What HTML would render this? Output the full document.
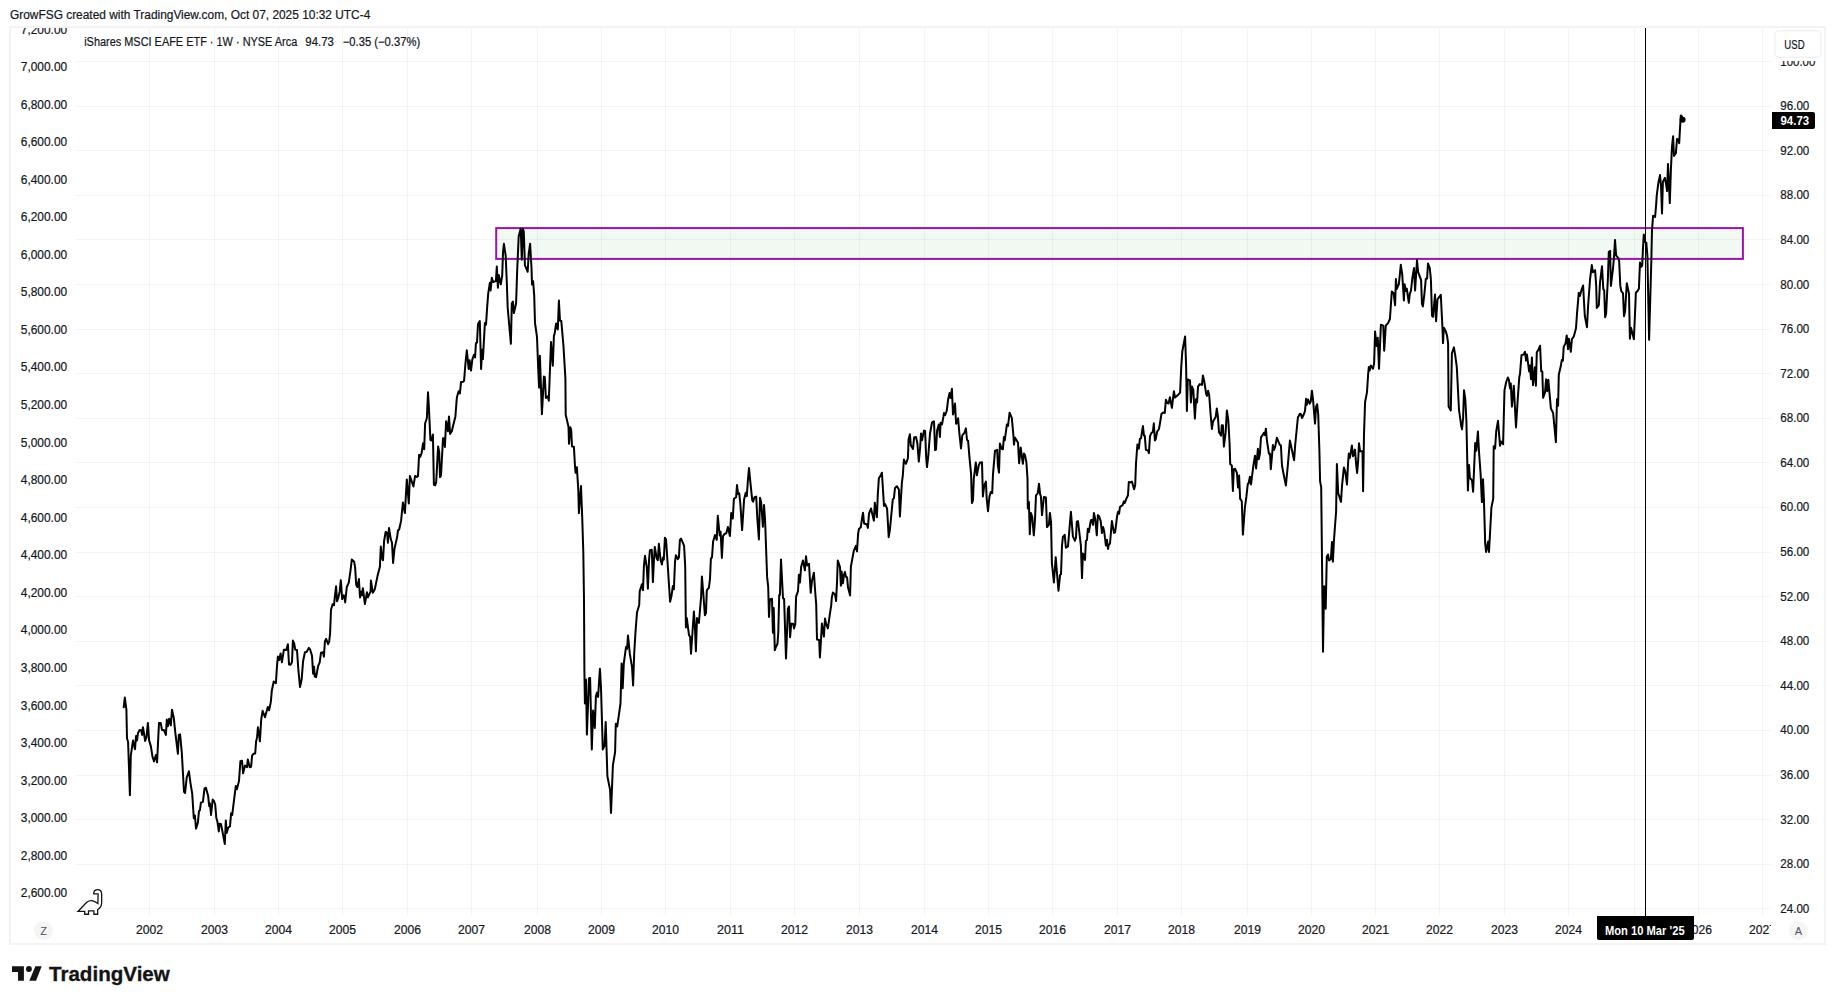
<!DOCTYPE html>
<html lang="en"><head><meta charset="utf-8"><title>iShares MSCI EAFE ETF chart</title>
<style>html,body{margin:0;padding:0;background:#fff}body{width:1835px;height:1004px;overflow:hidden}svg{display:block}text{font-family:"Liberation Sans", sans-serif;font-size:12px;fill:#131722;stroke:#131722;stroke-width:0.2px}</style>
</head><body>
<svg width="1835" height="1004" viewBox="0 0 1835 1004">
<rect x="0" y="0" width="1835" height="1004" fill="#fff"/>
<text x="10" y="19.3" textLength="360.3" lengthAdjust="spacingAndGlyphs">GrowFSG created with TradingView.com, Oct 07, 2025 10:32 UTC-4</text>
<rect x="10" y="27" width="1815" height="917" fill="#fff" stroke="#f3f3f3" stroke-width="2"/>
<g shape-rendering="crispEdges" stroke="#1e3c2d" stroke-opacity="0.055" stroke-width="1">
<line x1="76" y1="61.5" x2="1771" y2="61.5"/>
<line x1="76" y1="106.5" x2="1771" y2="106.5"/>
<line x1="76" y1="150.5" x2="1771" y2="150.5"/>
<line x1="76" y1="195.5" x2="1771" y2="195.5"/>
<line x1="76" y1="239.5" x2="1771" y2="239.5"/>
<line x1="76" y1="284.5" x2="1771" y2="284.5"/>
<line x1="76" y1="329.5" x2="1771" y2="329.5"/>
<line x1="76" y1="373.5" x2="1771" y2="373.5"/>
<line x1="76" y1="418.5" x2="1771" y2="418.5"/>
<line x1="76" y1="462.5" x2="1771" y2="462.5"/>
<line x1="76" y1="507.5" x2="1771" y2="507.5"/>
<line x1="76" y1="552.5" x2="1771" y2="552.5"/>
<line x1="76" y1="596.5" x2="1771" y2="596.5"/>
<line x1="76" y1="641.5" x2="1771" y2="641.5"/>
<line x1="76" y1="685.5" x2="1771" y2="685.5"/>
<line x1="76" y1="730.5" x2="1771" y2="730.5"/>
<line x1="76" y1="775.5" x2="1771" y2="775.5"/>
<line x1="76" y1="819.5" x2="1771" y2="819.5"/>
<line x1="76" y1="864.5" x2="1771" y2="864.5"/>
<line x1="76" y1="908.5" x2="1771" y2="908.5"/>
<line x1="149.5" y1="28" x2="149.5" y2="916"/>
<line x1="214.5" y1="28" x2="214.5" y2="916"/>
<line x1="278.5" y1="28" x2="278.5" y2="916"/>
<line x1="342.5" y1="28" x2="342.5" y2="916"/>
<line x1="407.5" y1="28" x2="407.5" y2="916"/>
<line x1="471.5" y1="28" x2="471.5" y2="916"/>
<line x1="537.5" y1="28" x2="537.5" y2="916"/>
<line x1="601.5" y1="28" x2="601.5" y2="916"/>
<line x1="665.5" y1="28" x2="665.5" y2="916"/>
<line x1="730.5" y1="28" x2="730.5" y2="916"/>
<line x1="794.5" y1="28" x2="794.5" y2="916"/>
<line x1="859.5" y1="28" x2="859.5" y2="916"/>
<line x1="924.5" y1="28" x2="924.5" y2="916"/>
<line x1="988.5" y1="28" x2="988.5" y2="916"/>
<line x1="1052.5" y1="28" x2="1052.5" y2="916"/>
<line x1="1117.5" y1="28" x2="1117.5" y2="916"/>
<line x1="1181.5" y1="28" x2="1181.5" y2="916"/>
<line x1="1247.5" y1="28" x2="1247.5" y2="916"/>
<line x1="1311.5" y1="28" x2="1311.5" y2="916"/>
<line x1="1375.5" y1="28" x2="1375.5" y2="916"/>
<line x1="1439.5" y1="28" x2="1439.5" y2="916"/>
<line x1="1504.5" y1="28" x2="1504.5" y2="916"/>
<line x1="1568.5" y1="28" x2="1568.5" y2="916"/>
<line x1="1634.5" y1="28" x2="1634.5" y2="916"/>
<line x1="1698.5" y1="28" x2="1698.5" y2="916"/>
<line x1="1762.5" y1="28" x2="1762.5" y2="916"/>
</g>
<defs><clipPath id="cf"><rect x="11" y="28" width="1813" height="915"/></clipPath><clipPath id="cp"><rect x="76" y="28" width="1695" height="916"/></clipPath><clipPath id="cr"><rect x="1771" y="61" width="54" height="860"/></clipPath></defs>
<g clip-path="url(#cf)" text-anchor="end">
<text x="67.2" y="34.4" textLength="46.4" lengthAdjust="spacingAndGlyphs">7,200.00</text>
<text x="67.2" y="71.0" textLength="46.4" lengthAdjust="spacingAndGlyphs">7,000.00</text>
<text x="67.2" y="108.5" textLength="46.4" lengthAdjust="spacingAndGlyphs">6,800.00</text>
<text x="67.2" y="146.1" textLength="46.4" lengthAdjust="spacingAndGlyphs">6,600.00</text>
<text x="67.2" y="183.6" textLength="46.4" lengthAdjust="spacingAndGlyphs">6,400.00</text>
<text x="67.2" y="221.2" textLength="46.4" lengthAdjust="spacingAndGlyphs">6,200.00</text>
<text x="67.2" y="258.8" textLength="46.4" lengthAdjust="spacingAndGlyphs">6,000.00</text>
<text x="67.2" y="296.3" textLength="46.4" lengthAdjust="spacingAndGlyphs">5,800.00</text>
<text x="67.2" y="333.9" textLength="46.4" lengthAdjust="spacingAndGlyphs">5,600.00</text>
<text x="67.2" y="371.4" textLength="46.4" lengthAdjust="spacingAndGlyphs">5,400.00</text>
<text x="67.2" y="409.0" textLength="46.4" lengthAdjust="spacingAndGlyphs">5,200.00</text>
<text x="67.2" y="446.6" textLength="46.4" lengthAdjust="spacingAndGlyphs">5,000.00</text>
<text x="67.2" y="484.1" textLength="46.4" lengthAdjust="spacingAndGlyphs">4,800.00</text>
<text x="67.2" y="521.7" textLength="46.4" lengthAdjust="spacingAndGlyphs">4,600.00</text>
<text x="67.2" y="559.2" textLength="46.4" lengthAdjust="spacingAndGlyphs">4,400.00</text>
<text x="67.2" y="596.8" textLength="46.4" lengthAdjust="spacingAndGlyphs">4,200.00</text>
<text x="67.2" y="634.4" textLength="46.4" lengthAdjust="spacingAndGlyphs">4,000.00</text>
<text x="67.2" y="671.9" textLength="46.4" lengthAdjust="spacingAndGlyphs">3,800.00</text>
<text x="67.2" y="709.5" textLength="46.4" lengthAdjust="spacingAndGlyphs">3,600.00</text>
<text x="67.2" y="747.0" textLength="46.4" lengthAdjust="spacingAndGlyphs">3,400.00</text>
<text x="67.2" y="784.6" textLength="46.4" lengthAdjust="spacingAndGlyphs">3,200.00</text>
<text x="67.2" y="822.2" textLength="46.4" lengthAdjust="spacingAndGlyphs">3,000.00</text>
<text x="67.2" y="859.7" textLength="46.4" lengthAdjust="spacingAndGlyphs">2,800.00</text>
<text x="67.2" y="897.3" textLength="46.4" lengthAdjust="spacingAndGlyphs">2,600.00</text>
</g>
<g clip-path="url(#cr)">
<text x="1780.3" y="66" textLength="35.0" lengthAdjust="spacingAndGlyphs">100.00</text>
<text x="1780.3" y="110" textLength="29.0" lengthAdjust="spacingAndGlyphs">96.00</text>
<text x="1780.3" y="155" textLength="29.0" lengthAdjust="spacingAndGlyphs">92.00</text>
<text x="1780.3" y="199" textLength="29.0" lengthAdjust="spacingAndGlyphs">88.00</text>
<text x="1780.3" y="244" textLength="29.0" lengthAdjust="spacingAndGlyphs">84.00</text>
<text x="1780.3" y="289" textLength="29.0" lengthAdjust="spacingAndGlyphs">80.00</text>
<text x="1780.3" y="333" textLength="29.0" lengthAdjust="spacingAndGlyphs">76.00</text>
<text x="1780.3" y="378" textLength="29.0" lengthAdjust="spacingAndGlyphs">72.00</text>
<text x="1780.3" y="422" textLength="29.0" lengthAdjust="spacingAndGlyphs">68.00</text>
<text x="1780.3" y="467" textLength="29.0" lengthAdjust="spacingAndGlyphs">64.00</text>
<text x="1780.3" y="511" textLength="29.0" lengthAdjust="spacingAndGlyphs">60.00</text>
<text x="1780.3" y="556" textLength="29.0" lengthAdjust="spacingAndGlyphs">56.00</text>
<text x="1780.3" y="601" textLength="29.0" lengthAdjust="spacingAndGlyphs">52.00</text>
<text x="1780.3" y="645" textLength="29.0" lengthAdjust="spacingAndGlyphs">48.00</text>
<text x="1780.3" y="690" textLength="29.0" lengthAdjust="spacingAndGlyphs">44.00</text>
<text x="1780.3" y="734" textLength="29.0" lengthAdjust="spacingAndGlyphs">40.00</text>
<text x="1780.3" y="779" textLength="29.0" lengthAdjust="spacingAndGlyphs">36.00</text>
<text x="1780.3" y="824" textLength="29.0" lengthAdjust="spacingAndGlyphs">32.00</text>
<text x="1780.3" y="868" textLength="29.0" lengthAdjust="spacingAndGlyphs">28.00</text>
<text x="1780.3" y="913" textLength="29.0" lengthAdjust="spacingAndGlyphs">24.00</text>
</g>
<g clip-path="url(#cp)" text-anchor="middle">
<text x="149.5" y="934" textLength="27" lengthAdjust="spacingAndGlyphs">2002</text>
<text x="214.5" y="934" textLength="27" lengthAdjust="spacingAndGlyphs">2003</text>
<text x="278.5" y="934" textLength="27" lengthAdjust="spacingAndGlyphs">2004</text>
<text x="342.5" y="934" textLength="27" lengthAdjust="spacingAndGlyphs">2005</text>
<text x="407.5" y="934" textLength="27" lengthAdjust="spacingAndGlyphs">2006</text>
<text x="471.5" y="934" textLength="27" lengthAdjust="spacingAndGlyphs">2007</text>
<text x="537.5" y="934" textLength="27" lengthAdjust="spacingAndGlyphs">2008</text>
<text x="601.5" y="934" textLength="27" lengthAdjust="spacingAndGlyphs">2009</text>
<text x="665.5" y="934" textLength="27" lengthAdjust="spacingAndGlyphs">2010</text>
<text x="730.5" y="934" textLength="27" lengthAdjust="spacingAndGlyphs">2011</text>
<text x="794.5" y="934" textLength="27" lengthAdjust="spacingAndGlyphs">2012</text>
<text x="859.5" y="934" textLength="27" lengthAdjust="spacingAndGlyphs">2013</text>
<text x="924.5" y="934" textLength="27" lengthAdjust="spacingAndGlyphs">2014</text>
<text x="988.5" y="934" textLength="27" lengthAdjust="spacingAndGlyphs">2015</text>
<text x="1052.5" y="934" textLength="27" lengthAdjust="spacingAndGlyphs">2016</text>
<text x="1117.5" y="934" textLength="27" lengthAdjust="spacingAndGlyphs">2017</text>
<text x="1181.5" y="934" textLength="27" lengthAdjust="spacingAndGlyphs">2018</text>
<text x="1247.5" y="934" textLength="27" lengthAdjust="spacingAndGlyphs">2019</text>
<text x="1311.5" y="934" textLength="27" lengthAdjust="spacingAndGlyphs">2020</text>
<text x="1375.5" y="934" textLength="27" lengthAdjust="spacingAndGlyphs">2021</text>
<text x="1439.5" y="934" textLength="27" lengthAdjust="spacingAndGlyphs">2022</text>
<text x="1504.5" y="934" textLength="27" lengthAdjust="spacingAndGlyphs">2023</text>
<text x="1568.5" y="934" textLength="27" lengthAdjust="spacingAndGlyphs">2024</text>
<text x="1634.5" y="934" textLength="27" lengthAdjust="spacingAndGlyphs">2025</text>
<text x="1698.5" y="934" textLength="27" lengthAdjust="spacingAndGlyphs">2026</text>
<text x="1762.5" y="934" textLength="27" lengthAdjust="spacingAndGlyphs">2027</text>
</g>
<rect x="496.2" y="228.1" width="1246.7" height="30.8" fill="#4caf50" fill-opacity="0.07" stroke="none"/>
<rect x="496.2" y="228.1" width="1246.7" height="30.8" fill="none" stroke="#9a14a8" stroke-width="2"/>
<text x="84.2" y="46.4" textLength="213.1" lengthAdjust="spacingAndGlyphs">iShares MSCI EAFE ETF · 1W · NYSE Arca</text>
<text x="305.3" y="46.4" textLength="28.6" lengthAdjust="spacingAndGlyphs">94.73</text>
<text x="342.7" y="46.4" textLength="77.5" lengthAdjust="spacingAndGlyphs">−0.35 (−0.37%)</text>
<polyline fill="none" stroke="#000" stroke-width="2" stroke-linejoin="round" stroke-linecap="round" points="123.7,707.3 124.8,697.5 126.4,709.7 127.0,738.2 128.1,742.0 129.9,795.2 130.8,755.7 133.0,740.6 135.0,749.2 136.0,736.0 137.1,740.4 137.9,733.3 139.6,730.0 141.2,730.3 142.1,734.9 142.9,727.3 144.0,733.3 145.1,740.9 146.5,737.1 147.9,722.9 149.1,740.4 150.9,746.4 152.5,756.8 154.0,761.4 156.0,754.9 157.1,762.3 158.2,739.3 159.0,722.9 160.7,722.9 162.0,730.0 163.9,730.0 165.9,734.9 166.8,719.6 167.9,726.2 169.2,718.7 170.8,725.3 172.0,709.7 173.8,717.9 175.2,731.6 177.9,753.8 178.8,734.9 180.1,734.4 181.8,752.5 184.0,791.9 185.1,793.0 186.7,777.7 188.9,771.3 190.5,783.1 192.2,793.6 193.8,818.2 194.9,815.5 196.0,828.6 197.9,822.6 199.0,810.8 199.9,810.3 200.9,802.7 202.9,801.8 204.5,788.6 205.9,787.7 208.1,795.7 209.2,806.2 210.0,803.4 211.0,814.9 212.7,799.6 214.1,801.2 215.2,804.5 216.3,817.7 217.4,821.5 218.8,831.4 219.6,823.7 221.0,824.2 222.3,830.8 224.8,844.0 225.8,820.4 226.7,833.0 228.3,827.5 230.0,826.4 231.1,813.3 232.2,814.9 233.8,801.8 235.8,785.9 236.9,789.2 239.0,781.0 240.4,761.2 242.0,760.7 243.1,773.3 245.0,765.6 247.0,767.2 247.8,759.6 249.7,767.2 251.1,766.7 252.1,755.7 253.5,753.8 255.2,753.5 256.1,741.5 257.1,737.1 257.9,727.3 259.0,733.8 259.9,741.3 261.2,719.6 262.6,710.8 265.0,717.2 267.8,707.0 269.1,710.3 270.8,702.1 271.8,690.8 273.7,681.5 275.9,683.1 277.0,665.6 277.9,656.6 279.2,660.1 280.6,653.5 281.9,662.3 283.9,649.7 286.3,650.0 287.9,644.2 289.0,664.5 290.5,664.7 292.0,662.1 292.9,640.6 294.2,643.7 295.3,649.7 297.0,650.0 298.3,668.9 300.0,687.0 301.6,679.8 303.1,661.2 304.9,652.2 306.6,651.9 308.8,647.9 310.2,649.7 312.0,655.7 313.1,673.8 314.0,666.7 314.8,676.6 316.1,677.1 318.1,666.1 319.7,662.3 321.0,652.7 323.0,652.2 323.9,656.8 324.9,641.5 326.1,638.8 328.1,644.2 329.2,641.5 330.1,633.3 331.0,609.7 332.6,604.2 334.0,605.3 334.8,596.9 336.1,586.2 337.0,601.3 338.1,598.5 339.7,591.4 340.8,580.2 342.2,599.1 343.6,595.3 344.3,595.8 345.2,602.4 346.8,587.0 348.8,582.7 350.5,570.6 351.8,559.6 354.2,561.8 355.1,567.3 356.2,584.8 357.3,587.0 358.9,579.1 360.0,597.4 361.4,591.4 362.0,595.3 362.9,588.3 364.9,604.0 366.9,592.3 367.9,597.4 370.6,591.4 370.9,580.5 372.8,592.7 374.8,589.2 377.5,576.1 379.9,566.8 380.8,546.5 381.9,558.0 383.0,560.2 384.1,541.0 385.7,531.7 387.1,532.8 387.9,542.7 389.0,527.9 390.7,538.8 392.0,542.7 393.1,562.9 394.5,548.7 397.2,536.6 398.0,530.1 399.1,529.8 401.1,520.7 402.9,502.5 404.9,513.1 406.8,479.4 408.8,503.5 409.9,476.1 411.8,481.6 413.4,486.5 415.1,475.9 416.9,477.0 418.0,476.1 419.1,454.7 420.2,456.9 421.6,453.1 423.1,443.2 424.2,449.2 425.1,423.5 426.9,418.0 428.0,392.3 429.0,409.2 430.4,439.9 431.5,440.5 432.9,434.4 433.9,484.8 435.1,485.4 436.2,482.1 438.1,446.5 439.2,452.0 440.0,477.2 441.0,475.5 443.0,438.3 443.9,438.3 444.9,447.0 446.1,421.3 447.4,427.9 447.9,431.2 449.0,416.4 450.1,433.9 451.8,431.2 453.4,424.6 455.4,416.4 456.7,399.4 457.0,396.9 458.6,391.2 459.9,393.4 461.0,382.1 462.7,382.1 464.1,380.7 465.4,364.0 466.8,350.3 468.7,369.0 469.6,360.2 471.0,370.6 472.3,359.6 474.0,354.7 475.1,357.5 475.9,343.2 477.0,342.7 478.0,324.0 479.8,321.0 481.1,369.0 482.2,349.8 482.9,359.1 484.9,322.9 486.0,324.6 487.1,308.1 488.2,293.7 489.9,282.7 490.6,290.4 491.8,277.8 493.1,282.0 495.9,281.1 496.8,266.6 497.9,287.7 498.8,275.1 500.8,284.4 502.2,275.6 503.0,252.6 503.9,243.8 505.7,255.9 506.8,282.2 507.7,307.9 510.9,343.8 511.8,303.2 512.9,301.6 513.9,313.1 515.9,304.3 516.1,303.0 517.2,270.1 518.7,236.2 520.7,228.7 521.8,259.7 522.9,228.7 523.8,231.8 524.9,265.2 527.7,271.8 528.7,253.7 530.1,243.8 531.5,267.9 532.0,284.4 533.1,281.1 534.2,295.3 535.0,322.9 537.0,337.2 538.3,370.6 539.1,387.6 539.9,355.8 541.9,414.2 543.9,376.6 544.8,377.2 545.9,398.0 547.9,396.3 548.8,400.7 551.0,342.1 552.8,365.7 553.9,336.1 554.7,333.3 556.1,323.5 557.8,329.5 558.9,300.5 560.0,320.7 561.3,321.0 563.5,346.5 565.4,378.3 565.7,414.7 568.5,426.8 569.0,443.8 570.3,427.3 571.2,430.1 572.0,446.5 573.9,446.7 575.0,466.2 575.6,472.8 576.9,467.3 578.3,490.3 578.9,513.1 581.0,486.0 582.2,516.9 583.3,552.0 584.0,600.0 584.4,671.2 584.9,703.5 586.0,679.4 586.9,734.6 589.0,678.3 590.1,677.8 591.8,749.4 593.1,710.5 594.8,728.0 595.9,696.4 597.0,692.6 598.1,697.0 599.9,668.8 601.0,687.7 602.8,749.4 604.6,745.5 605.7,722.0 607.4,776.2 610.1,789.9 611.0,812.9 612.9,765.3 615.1,752.1 615.8,723.8 617.2,726.4 618.9,714.9 620.5,703.5 621.6,663.5 622.7,688.2 623.8,663.5 626.0,647.1 627.1,648.8 628.0,635.6 629.8,653.7 632.0,666.8 633.1,685.5 634.2,653.7 635.5,631.8 637.0,612.6 639.2,604.9 639.7,591.4 641.9,584.3 643.0,590.3 643.9,566.2 645.0,555.8 646.8,567.3 647.9,588.7 649.0,560.7 649.9,550.3 651.8,549.8 652.9,582.1 653.9,560.7 654.8,547.0 656.7,558.5 657.8,560.2 658.9,543.8 660.5,559.6 661.9,564.6 662.9,557.5 663.8,559.6 664.9,537.7 666.0,539.4 667.6,562.9 668.7,580.5 670.1,601.8 671.5,595.8 672.9,585.9 673.9,589.2 675.0,561.8 675.9,555.3 677.8,559.1 678.9,557.5 679.9,539.9 681.0,538.6 682.4,541.6 684.1,545.9 685.2,566.2 685.9,627.4 686.8,618.1 689.0,635.1 690.1,636.7 691.0,653.7 693.9,611.5 695.0,628.5 695.9,651.3 697.0,618.1 698.9,623.0 701.1,596.9 701.9,576.6 703.3,593.6 704.9,615.3 706.0,613.1 706.8,590.3 708.9,587.6 710.0,578.8 710.9,558.5 712.0,557.5 713.1,541.6 715.0,535.0 716.7,539.9 717.8,515.8 719.7,535.5 720.6,531.7 721.9,558.0 723.0,536.1 724.6,533.9 726.3,533.3 727.9,527.0 729.9,536.1 731.2,513.1 732.8,518.6 733.9,498.8 736.1,497.2 737.0,485.1 738.1,493.9 739.2,493.3 740.3,503.2 742.1,530.1 744.1,499.4 745.7,492.8 746.8,496.1 747.9,480.2 749.0,468.1 750.7,485.7 752.3,500.5 753.1,501.6 754.5,497.2 756.2,496.6 757.3,518.0 758.9,539.4 760.0,497.7 761.1,502.1 762.9,526.8 764.0,504.9 765.1,520.7 767.1,576.9 768.2,586.8 769.0,616.9 769.9,599.4 772.0,598.8 772.9,632.8 773.7,608.1 774.8,650.3 775.9,647.0 777.5,643.7 778.3,631.7 779.2,595.0 779.9,595.0 781.0,559.4 783.0,598.3 784.1,598.8 786.0,658.5 787.9,608.7 789.0,606.5 790.1,637.2 791.2,623.8 793.2,623.8 794.0,628.4 795.3,624.0 796.1,596.6 798.0,591.2 798.9,574.7 800.0,582.4 801.1,567.1 802.9,560.5 804.9,570.3 806.0,556.3 807.1,565.4 809.0,563.8 810.7,592.8 812.0,580.7 813.9,572.7 815.3,593.3 816.2,604.3 817.0,639.4 819.2,639.9 819.9,657.4 821.0,639.9 821.9,623.5 823.9,636.6 825.0,618.5 826.1,624.0 827.9,628.4 829.6,615.8 831.2,605.4 831.8,597.7 832.9,592.5 835.0,594.4 836.1,601.0 837.0,582.4 837.8,560.5 840.0,567.1 840.9,585.7 841.6,571.4 842.9,583.5 844.0,574.7 844.9,572.0 846.0,576.9 847.1,577.5 848.0,587.3 850.1,595.5 850.9,566.5 853.9,550.3 855.9,545.9 857.0,551.4 858.1,533.9 858.9,529.0 860.8,527.3 861.9,519.1 863.0,512.7 864.1,523.5 865.7,524.2 866.8,524.0 867.9,527.9 869.0,513.6 871.0,508.5 873.9,520.7 874.8,502.7 876.9,517.2 877.8,494.4 878.9,478.0 880.5,475.8 881.9,472.7 884.0,505.9 885.1,504.1 887.1,508.7 888.7,537.2 889.8,530.6 892.8,499.4 893.9,498.3 895.0,487.9 896.9,486.2 898.9,489.5 899.9,516.4 901.9,482.4 902.8,475.8 903.9,459.4 905.9,463.8 907.9,458.3 908.6,439.2 909.9,434.2 910.8,445.2 913.0,449.0 914.1,437.5 916.0,437.0 917.4,443.5 918.8,461.6 920.1,447.9 921.0,433.5 922.0,440.3 924.0,430.6 925.1,430.9 926.2,457.8 927.0,467.1 928.3,455.6 930.0,433.7 932.0,422.5 934.0,421.4 935.1,450.1 936.0,449.6 937.1,430.4 938.8,424.4 939.9,437.0 940.6,422.7 942.0,424.4 943.4,416.7 944.0,412.9 945.1,415.1 946.8,410.7 948.1,399.7 949.5,393.1 950.6,398.1 951.9,388.8 953.0,414.5 953.9,410.7 955.0,403.6 956.1,423.8 957.1,422.7 958.1,418.3 959.2,431.5 961.0,448.5 962.3,435.3 964.5,432.6 965.9,428.4 967.0,440.0 968.1,440.8 969.4,456.7 971.1,474.2 971.9,503.0 973.0,500.3 973.8,478.6 975.8,462.4 976.9,475.3 978.7,465.5 980.1,462.4 982.0,462.2 982.9,496.4 984.2,485.5 985.9,481.6 986.7,498.6 988.0,511.2 989.4,497.0 990.8,492.1 992.2,493.1 993.0,474.2 995.0,450.7 997.2,449.9 997.9,465.5 999.0,472.6 999.9,443.5 1001.8,449.0 1002.9,449.2 1003.9,437.0 1004.8,440.3 1005.6,434.2 1006.9,424.4 1008.0,426.0 1009.6,412.7 1011.8,417.8 1013.3,434.2 1014.0,444.6 1014.9,437.5 1016.0,439.2 1018.0,442.7 1019.1,463.3 1020.7,447.4 1021.8,456.7 1022.9,463.8 1023.9,453.4 1025.0,455.1 1026.4,462.2 1027.5,478.6 1027.8,508.5 1028.9,501.9 1029.8,534.2 1030.9,512.9 1032.2,516.7 1033.8,535.3 1034.9,521.6 1036.0,495.3 1037.7,493.4 1039.0,483.8 1040.1,494.2 1040.9,496.4 1042.0,515.1 1043.9,497.0 1045.9,497.5 1047.0,527.1 1048.9,524.9 1049.9,512.9 1051.0,521.6 1051.9,563.3 1053.9,582.4 1055.7,557.2 1056.8,570.9 1058.5,590.7 1060.1,574.8 1061.0,574.2 1062.0,545.7 1062.9,536.8 1064.7,534.8 1065.9,547.7 1068.0,546.3 1069.4,529.3 1070.9,511.8 1072.9,536.4 1074.9,540.8 1076.0,537.5 1076.8,521.6 1078.0,521.1 1080.9,545.7 1082.0,578.1 1082.9,553.4 1085.0,560.0 1085.9,540.8 1087.0,540.0 1087.8,528.8 1088.9,532.0 1090.8,520.3 1091.9,520.0 1093.0,524.9 1093.9,512.9 1095.2,518.9 1096.8,535.3 1097.9,515.1 1099.0,516.2 1100.7,521.1 1102.0,533.1 1103.1,527.1 1104.2,531.5 1105.9,545.5 1106.9,539.7 1108.0,549.0 1108.9,544.6 1110.0,543.5 1111.9,521.1 1114.0,532.9 1115.1,532.4 1117.1,516.2 1118.0,511.8 1119.1,513.7 1120.0,506.8 1122.6,505.2 1123.9,501.4 1124.8,503.0 1126.4,498.6 1128.0,495.3 1128.8,482.0 1130.2,482.4 1131.9,481.6 1134.1,489.3 1135.2,484.9 1136.0,463.5 1137.4,444.4 1138.8,448.8 1139.9,438.9 1141.0,438.3 1142.9,426.1 1144.0,435.6 1144.8,435.9 1145.9,449.9 1147.8,450.4 1148.9,453.1 1150.0,436.2 1151.4,433.1 1152.9,431.8 1153.8,423.3 1154.9,440.5 1155.8,438.9 1157.1,431.8 1159.0,429.0 1160.1,422.5 1161.5,413.7 1163.1,412.6 1164.8,412.9 1165.9,399.7 1167.3,403.0 1168.6,403.5 1169.9,397.3 1171.9,407.9 1173.9,391.2 1175.0,397.5 1176.8,395.9 1178.5,394.4 1180.1,392.6 1181.2,367.9 1182.3,351.5 1185.1,336.4 1186.1,365.7 1186.9,411.0 1187.8,379.4 1190.0,380.5 1190.9,402.4 1192.0,386.6 1193.3,389.8 1194.9,418.6 1196.0,399.2 1197.1,402.4 1198.0,386.6 1199.8,384.1 1202.0,384.9 1202.9,375.4 1204.2,381.1 1206.2,394.0 1207.0,395.9 1208.1,390.7 1209.2,395.3 1210.6,414.2 1211.9,429.0 1213.0,421.4 1215.7,417.0 1216.8,408.5 1217.9,416.4 1219.0,432.3 1221.0,435.6 1221.8,425.2 1222.9,425.2 1223.9,446.6 1225.6,432.9 1226.9,410.4 1228.3,420.3 1229.6,443.8 1230.2,464.1 1231.8,465.5 1232.9,490.9 1233.8,469.2 1235.1,468.8 1236.9,472.9 1238.0,487.4 1239.1,475.6 1240.1,498.6 1241.8,501.3 1242.9,534.6 1244.9,507.4 1246.4,496.4 1247.8,483.8 1248.6,483.3 1249.9,476.7 1251.0,484.4 1252.4,473.4 1253.5,464.6 1255.0,455.7 1256.1,468.5 1257.9,448.8 1258.8,459.2 1259.9,453.7 1261.0,437.3 1262.8,434.8 1263.9,432.7 1265.0,435.1 1265.9,428.7 1266.9,440.5 1268.9,453.7 1270.0,453.7 1270.8,469.2 1271.9,457.0 1272.9,444.9 1274.0,449.9 1275.1,447.1 1276.9,437.8 1279.8,444.9 1280.9,445.5 1282.0,465.7 1283.7,474.5 1285.9,485.5 1287.8,465.7 1289.9,440.5 1291.9,449.9 1294.1,460.3 1295.2,444.9 1296.8,428.5 1297.9,417.5 1299.9,413.7 1300.9,414.2 1302.0,418.1 1303.6,414.8 1305.0,411.0 1306.1,398.7 1306.8,404.7 1308.1,399.5 1309.7,403.6 1310.8,401.4 1311.9,390.7 1313.0,399.2 1315.0,423.6 1316.1,406.9 1317.1,404.2 1318.2,414.0 1319.4,450.7 1320.1,481.4 1321.2,487.4 1321.6,523.8 1323.0,651.8 1324.1,586.3 1325.7,608.8 1326.8,556.7 1328.0,554.5 1329.1,560.5 1330.9,558.9 1332.0,541.9 1332.9,561.6 1333.9,541.4 1335.0,526.0 1336.1,511.8 1336.9,464.1 1338.2,493.5 1338.6,494.2 1341.0,501.9 1342.0,485.8 1343.9,467.4 1345.3,471.6 1347.0,484.5 1348.1,462.8 1348.8,453.5 1349.9,457.9 1351.9,445.5 1353.0,456.2 1355.0,449.6 1356.1,463.9 1357.1,472.9 1358.1,461.7 1359.0,443.3 1360.1,451.3 1362.5,451.3 1363.1,491.3 1364.0,434.3 1365.1,402.0 1367.0,392.1 1368.1,374.8 1368.8,367.1 1369.7,370.6 1370.8,365.5 1373.0,368.8 1374.1,363.3 1375.1,331.6 1376.5,345.9 1377.8,337.7 1379.0,368.8 1380.9,324.7 1383.3,325.6 1384.2,350.8 1385.8,325.6 1388.2,322.9 1389.9,319.0 1390.9,304.8 1391.8,291.6 1393.7,293.3 1395.1,305.3 1395.9,279.0 1396.8,288.9 1398.9,284.0 1400.8,264.8 1402.2,274.1 1403.9,300.4 1404.6,284.2 1405.7,291.1 1406.8,288.6 1408.8,302.8 1409.8,293.8 1411.0,290.5 1412.3,278.5 1414.0,268.1 1415.1,290.5 1417.0,260.1 1418.1,271.9 1421.1,280.1 1422.0,304.2 1422.9,306.4 1424.4,293.8 1425.8,279.0 1427.1,278.5 1428.0,263.4 1429.8,268.1 1430.9,279.6 1432.0,315.7 1433.1,316.8 1435.0,294.4 1436.1,321.2 1437.5,299.3 1440.8,294.9 1442.4,326.7 1443.0,343.1 1443.9,327.8 1445.7,331.1 1447.0,335.5 1448.1,343.1 1448.6,406.6 1450.8,410.4 1451.9,353.4 1453.9,347.4 1455.2,355.1 1456.8,367.1 1459.0,409.8 1461.2,425.7 1462.0,429.4 1463.1,417.9 1464.0,390.3 1465.3,399.2 1466.4,421.2 1467.9,490.6 1469.0,464.9 1469.9,478.0 1472.0,480.2 1473.1,491.7 1475.2,443.1 1476.3,450.7 1477.9,431.6 1479.0,451.8 1480.6,473.7 1481.9,502.1 1483.0,479.3 1483.9,498.8 1484.6,522.9 1485.2,543.7 1486.1,552.0 1488.1,541.6 1489.0,552.0 1490.1,531.7 1491.4,507.6 1493.2,498.8 1493.7,446.3 1495.1,448.5 1496.2,431.5 1498.0,420.8 1500.0,445.7 1501.1,441.4 1503.1,444.1 1503.8,416.2 1504.5,390.1 1506.1,382.5 1507.8,377.5 1508.9,379.7 1510.0,388.5 1510.8,383.5 1511.9,406.6 1513.8,385.7 1514.9,406.6 1516.0,427.4 1517.6,401.1 1519.3,377.0 1520.0,373.7 1521.5,355.1 1523.7,354.5 1525.0,351.8 1526.1,360.5 1526.9,354.5 1528.0,362.7 1529.1,371.5 1529.9,365.5 1531.0,379.2 1531.9,357.5 1533.0,385.2 1534.9,367.3 1535.9,385.7 1536.8,352.3 1538.5,349.6 1540.1,345.7 1541.2,371.3 1542.3,371.5 1543.1,397.8 1545.0,392.3 1546.1,379.2 1547.2,391.2 1548.3,379.7 1550.9,408.5 1553.1,412.9 1555.9,442.2 1557.0,399.2 1558.1,405.7 1558.8,374.8 1560.7,366.6 1561.8,360.1 1562.9,360.6 1563.7,346.9 1565.6,343.1 1566.7,335.4 1568.0,349.1 1568.9,338.7 1570.8,351.8 1571.9,339.2 1573.8,336.5 1576.0,328.3 1577.1,312.4 1578.8,292.7 1579.9,296.0 1581.5,289.9 1583.1,285.5 1584.8,315.7 1587.0,327.2 1588.1,305.8 1590.1,278.8 1591.8,265.1 1592.9,272.2 1595.1,270.1 1596.2,285.9 1596.8,308.0 1598.8,305.3 1600.0,282.7 1602.0,266.2 1603.3,289.2 1604.2,290.3 1605.1,317.3 1606.1,314.0 1607.9,278.3 1608.8,252.0 1610.1,250.9 1610.9,285.9 1612.9,269.5 1614.0,257.5 1615.0,239.9 1616.1,255.3 1618.6,258.5 1619.2,261.8 1620.3,285.9 1621.4,291.4 1623.0,293.1 1624.0,316.2 1625.1,311.3 1626.8,283.2 1629.0,293.6 1629.9,338.7 1631.0,327.7 1633.9,339.2 1635.9,292.5 1637.2,291.4 1638.9,288.7 1640.0,262.4 1641.1,266.8 1642.2,265.7 1642.9,249.8 1643.8,234.4 1644.9,242.1 1646.3,242.7 1647.4,255.8 1649.1,339.8 1651.3,261.8 1652.0,230.1 1653.1,215.8 1655.1,216.9 1656.2,203.8 1656.7,195.9 1658.3,183.3 1660.0,175.1 1661.1,187.2 1662.0,213.5 1662.9,181.7 1664.9,177.9 1666.0,183.9 1667.1,191.0 1668.0,163.9 1669.8,203.1 1670.9,169.6 1672.0,146.6 1673.1,136.2 1674.0,155.9 1675.9,153.2 1677.0,139.0 1678.1,139.5 1679.2,143.3 1679.9,130.2 1680.8,115.4 1681.7,116.0 1682.8,119.8"/>
<circle cx="1682.6" cy="119.8" r="3" fill="#000"/>
<line x1="1645.5" y1="28" x2="1645.5" y2="917" stroke="#000" stroke-width="1" shape-rendering="crispEdges"/>
<rect x="1773" y="29" width="50" height="32" fill="#fff"/>
<rect x="1775" y="30.7" width="46" height="26.5" rx="4.5" ry="4.5" fill="#fff" stroke="#f1f1f2" stroke-width="1.4"/>
<text x="1784.3" y="48.9" textLength="20.3" lengthAdjust="spacingAndGlyphs">USD</text>
<path d="M1772 112H1813A2 2 0 0 1 1815 114V127A2 2 0 0 1 1813 129H1772Z" fill="#000"/>
<text x="1780.5" y="125" textLength="28.6" lengthAdjust="spacingAndGlyphs" style="fill:#fff;stroke:none;font-weight:bold">94.73</text>
<path d="M1597 916H1694V938A2 2 0 0 1 1692 940H1599A2 2 0 0 1 1597 938Z" fill="#000"/>
<text x="1605" y="935" textLength="79.6" lengthAdjust="spacingAndGlyphs" style="fill:#fff;stroke:none;font-weight:bold">Mon 10 Mar '25</text>
<circle cx="43.5" cy="930.5" r="9.5" fill="#f5f5f5"/>
<text x="43.6" y="934.6" text-anchor="middle" style="font-size:11px;fill:#50535e;stroke:none">Z</text>
<circle cx="1798.4" cy="930.5" r="9.5" fill="#f5f5f5"/>
<text x="1798.5" y="934.6" text-anchor="middle" style="font-size:11px;fill:#50535e;stroke:none">A</text>
<path d="M77.95 911.47 L86.72 902.31 C88.3 901.0 89.9 900.7 91.5 900.7 C93.8 900.7 96.0 902.2 97.9 903.5 L98.07 893.94 L93.69 893.94 C93.7 891.5 95.3 889.56 97.6 889.56 C100 889.56 101.66 891.6 101.66 894.34 L101.66 903.11 C101.66 906.5 99.9 908.3 97.67 909.68 L97.67 914.26 L93.89 914.26 L93.89 910.88 L88.51 910.88 L88.51 914.26 L84.73 914.26 L84.73 911.47 Z" fill="none" stroke="#131313" stroke-width="1.3" stroke-linejoin="miter"/>
<g fill="#131313"><path d="M12 966.2H23.9V980.75H18.05V971.9H12Z"/><circle cx="28.9" cy="969.05" r="2.95"/><path d="M35.4 966.2H41.7L36.05 980.75H29.3Z"/></g>
<text x="49" y="980.75" textLength="120.8" lengthAdjust="spacingAndGlyphs" style="font-size:20px;font-weight:bold;fill:#131313;stroke:#131313;stroke-width:0.3px">TradingView</text>
</svg>
</body></html>
